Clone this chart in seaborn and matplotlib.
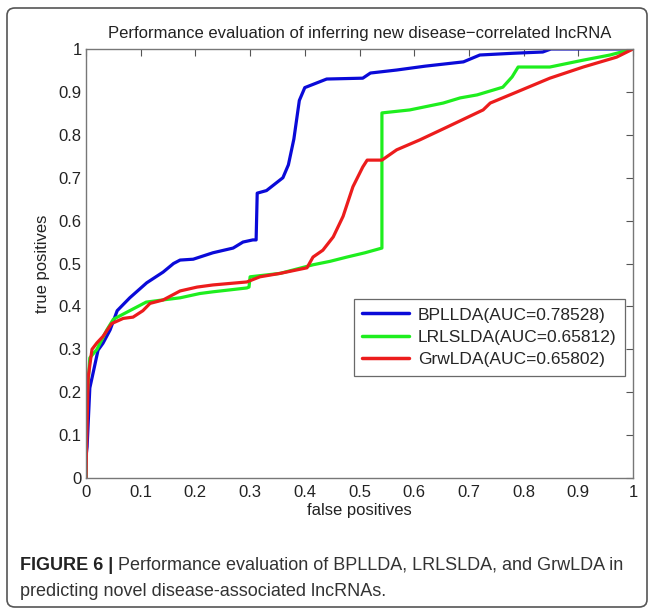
import numpy as np
import pandas as pd
import matplotlib
matplotlib.use("Agg")
import matplotlib.pyplot as plt
from matplotlib.patches import FancyBboxPatch
import seaborn as sns

# ---- data ----
blue_x = [0, 0.0, 0.002, 0.007, 0.013, 0.022, 0.031, 0.044, 0.057, 0.08, 0.111, 0.141, 0.16, 0.172,
          0.196, 0.232, 0.269, 0.287, 0.305, 0.311, 0.313, 0.33, 0.36, 0.37, 0.38, 0.39, 0.40, 0.41,
          0.44, 0.506, 0.52, 0.568, 0.62, 0.69, 0.72, 0.78, 0.835, 0.85, 1.0]
blue_y = [0, 0.05, 0.073, 0.21, 0.245, 0.298, 0.314, 0.345, 0.39, 0.42, 0.455, 0.48, 0.50, 0.508,
          0.51, 0.525, 0.536, 0.55, 0.555, 0.555, 0.664, 0.67, 0.70, 0.73, 0.79, 0.88, 0.91, 0.915,
          0.93, 0.932, 0.944, 0.951, 0.96, 0.97, 0.986, 0.99, 0.993, 1.0, 1.0]

green_x = [0, 0.0, 0.007, 0.02, 0.038, 0.05, 0.08, 0.11, 0.14, 0.172, 0.208, 0.232, 0.294, 0.298,
           0.30, 0.355, 0.415, 0.446, 0.477, 0.51, 0.541, 0.541, 0.592, 0.653, 0.684, 0.715, 0.762,
           0.779, 0.79, 0.848, 0.909, 0.958, 1.0]
green_y = [0, 0.15, 0.28, 0.30, 0.345, 0.37, 0.39, 0.41, 0.415, 0.42, 0.43, 0.434, 0.443, 0.445,
           0.469, 0.477, 0.497, 0.505, 0.515, 0.525, 0.536, 0.851, 0.858, 0.874, 0.886, 0.893, 0.911,
           0.935, 0.958, 0.958, 0.974, 0.986, 1.0]

red_x = [0, 0.001, 0.004, 0.011, 0.02, 0.031, 0.047, 0.068, 0.086, 0.104, 0.117, 0.141, 0.172, 0.203,
         0.232, 0.294, 0.318, 0.355, 0.404, 0.415, 0.433, 0.452, 0.47, 0.488, 0.506, 0.514, 0.541,
         0.568, 0.61, 0.66, 0.726, 0.739, 0.788, 0.848, 0.909, 0.97, 1.0]
red_y = [0, 0.07, 0.235, 0.30, 0.315, 0.33, 0.36, 0.372, 0.375, 0.39, 0.407, 0.415, 0.436, 0.445,
         0.45, 0.457, 0.469, 0.477, 0.49, 0.515, 0.531, 0.562, 0.61, 0.679, 0.725, 0.741, 0.741,
         0.765, 0.788, 0.818, 0.858, 0.874, 0.9, 0.932, 0.958, 0.981, 1.0]

labels = ["BPLLDA(AUC=0.78528)", "LRLSLDA(AUC=0.65812)", "GrwLDA(AUC=0.65802)"]
colors = ["#0a0ad8", "#1eee1e", "#ec1c1c"]
title = "Performance evaluation of inferring new disease\u2212correlated lncRNA"
xlabel = "false positives"
ylabel = "true positives"
ticks = [0, 0.1, 0.2, 0.3, 0.4, 0.5, 0.6, 0.7, 0.8, 0.9, 1]
tick_labels = ["0", "0.1", "0.2", "0.3", "0.4", "0.5", "0.6", "0.7", "0.8", "0.9", "1"]
caption_bold = "FIGURE 6 | "
caption_line1 = "Performance evaluation of BPLLDA, LRLSLDA, and GrwLDA in"
caption_line2 = "predicting novel disease-associated lncRNAs."

# ---- styling ----
sns.set_style("white")
plt.rcParams["font.family"] = ["Liberation Sans", "DejaVu Sans"]

fig = plt.figure(figsize=(6.55, 6.15), dpi=100)
ax = fig.add_axes([86 / 655, 1 - 478 / 615, (633 - 86) / 655, (478 - 49) / 615])

frames = []
for xs, ys, lab in [(blue_x, blue_y, labels[0]), (green_x, green_y, labels[1]), (red_x, red_y, labels[2])]:
    frames.append(pd.DataFrame({"x": xs, "y": ys, "method": lab}))
df = pd.concat(frames, ignore_index=True)

sns.lineplot(data=df, x="x", y="y", hue="method", hue_order=labels, palette=colors, sort=False,
             estimator=None, units="method", linewidth=2.3, ax=ax, legend=True)

ax.set_xlim(0, 1)
ax.set_ylim(0, 1)
ax.set_xticks(ticks)
ax.set_xticklabels(tick_labels)
ax.set_yticks(ticks)
ax.set_yticklabels(tick_labels)
ax.tick_params(direction="in", length=5, width=0.8, color="#555555", top=True, right=True,
               labelsize=12, labelcolor="#222222")
ax.tick_params(axis="x", pad=5)
ax.tick_params(axis="y", pad=3)
for s in ax.spines.values():
    s.set_color("#777777")
    s.set_linewidth(1.0)

ax.set_title(title, fontsize=12, color="#222222", pad=8)
ax.set_xlabel(xlabel, fontsize=12, color="#222222", labelpad=2)
ax.set_ylabel(ylabel, fontsize=12, color="#222222", labelpad=6)

leg = ax.legend(loc="upper right", bbox_to_anchor=(0.986, 0.418), fontsize=12.5, frameon=True,
                fancybox=False, edgecolor="#444444", handlelength=2.7, handletextpad=0.5,
                borderpad=0.5, labelspacing=0.42, borderaxespad=0)
leg.get_frame().set_linewidth(0.9)
for line in leg.get_lines():
    line.set_linewidth(2.5)

# figure border
border = FancyBboxPatch((7 / 655, 8 / 615), (647 - 7) / 655, (607 - 8) / 615,
                        boxstyle="round,pad=0,rounding_size=0.012", transform=fig.transFigure,
                        fill=False, edgecolor="#555555", linewidth=1.2)
fig.patches.append(border)

# caption
cap_size = 13
t_bold = fig.text(20 / 655, 1 - 565 / 615, caption_bold, fontsize=cap_size, fontweight="bold",
                  color="#222222", va="center", ha="left")
fig.canvas.draw()
bb = t_bold.get_window_extent(renderer=fig.canvas.get_renderer())
x_next = bb.x1 / fig.bbox.width
fig.text(x_next, 1 - 565 / 615, caption_line1, fontsize=cap_size, color="#333333",
         va="center", ha="left")
fig.text(20 / 655, 1 - 591 / 615, caption_line2, fontsize=cap_size, color="#333333",
         va="center", ha="left")

fig.savefig("out.png", dpi=100)
